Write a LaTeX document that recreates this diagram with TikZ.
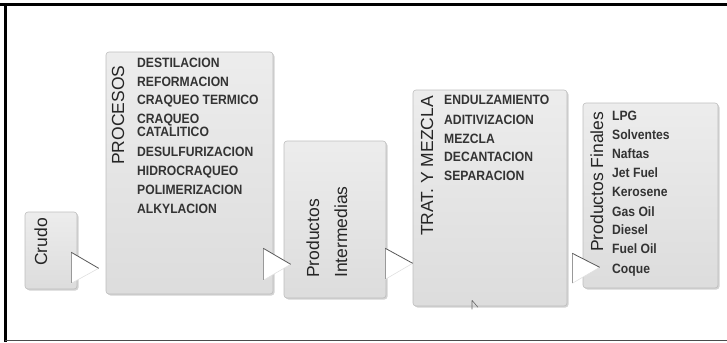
\documentclass[tikz,border=0pt]{standalone}
\usepackage{fontspec}
\setmainfont{Liberation Sans}
\newfontfamily\itemfont[FakeStretch=0.9]{Liberation Sans}
\usetikzlibrary{calc,shadows}
\definecolor{boxfill}{HTML}{E8E8E8}
\definecolor{boxline}{HTML}{BDBDBD}
\definecolor{itemtext}{HTML}{333333}
\begin{document}
\begin{tikzpicture}[x=1bp,y=-1bp,
  box/.style={draw=boxline, line width=0.6bp, rounded corners=3bp, top color=boxfill!80!white, bottom color=boxfill!95!black,
    inner sep=0pt, drop shadow={opacity=0.35, shadow xshift=1.5bp, shadow yshift=-1.5bp}},
  lbl/.style={rotate=90, anchor=base west, inner sep=0pt, font=\fontsize{17.5bp}{21bp}\selectfont, text=black!85},
  item/.style={anchor=base west, inner sep=0pt, font=\itemfont\bfseries\fontsize{13.5bp}{16bp}\selectfont, text=itemtext},
  tri/.style={fill=white, draw=none},
  triL/.style={draw=black!40, line width=1.2bp},
  triT/.style={draw=black!65, line width=0.8bp},
  triB/.style={draw=black!12, line width=0.6bp}]
\useasboundingbox (0,0) rectangle (727,342);
% frame
\draw[black, line width=2.7bp] (0,4.7) -- (727,4.7);
\draw[black, line width=2.7bp] (5.3,3.4) -- (5.3,342);
\draw[black!70, line width=1.3bp] (5.3,340.5) -- (727,340.5);
% boxes
\node[box, minimum width=52bp, minimum height=77bp] (crudo) at (51,250.5) {};
\node[box, minimum width=167bp, minimum height=242bp] (proc) at (189.5,173) {};
\node[box, minimum width=102bp, minimum height=157bp] (inter) at (335,219.5) {};
\node[box, minimum width=154bp, minimum height=216bp] (trat) at (490,198) {};
\node[box, minimum width=135bp, minimum height=185bp] (fin) at (650.5,195.5) {};
% rotated labels
\node[lbl] (lcrudo) at (47,266) {Crudo};
\node[lbl] (lproc) at (124,165) {PROCESOS};
\node[lbl] (linter1) at (319,278) {Productos};
\node[lbl] (linter2) at (347,278) {Intermedias};
\node[lbl] (ltrat) at (433,236) {TRAT. Y MEZCLA};
\node[lbl] (lfin) at (603,252) {Productos Finales};
% items
\foreach \t/\y [count=\i] in {DESTILACION/67, REFORMACION/86, CRAQUEO TERMICO/104, CRAQUEO/123, CATALITICO/136,
   DESULFURIZACION/156, HIDROCRAQUEO/175, POLIMERIZACION/194, ALKYLACION/213}
  \node[item] (p\i) at (137,\y) {\t};
\foreach \t/\y [count=\i] in {ENDULZAMIENTO/104, ADITIVIZACION/124, MEZCLA/143, DECANTACION/161, SEPARACION/180}
  \node[item] (t\i) at (444,\y) {\t};
\foreach \t/\y [count=\i] in {LPG/120, Solventes/139, Naftas/158, Jet Fuel/177, Kerosene/196, Gas Oil/216,
   Diesel/234, Fuel Oil/253, Coque/273}
  \node[item] (f\i) at (612,\y) {\t};
% connectors (callout triangles)
\coordinate (a1t) at ($(crudo.south east)+(-6,-37)$);
\coordinate (a1b) at ($(crudo.south east)+(-6,-6)$);
\coordinate (a1p) at ($(proc.south west)+(-7,-26)$);
\coordinate (a2t) at ($(proc.south east)+(-10,-46)$);
\coordinate (a2b) at ($(proc.south east)+(-10,-14)$);
\coordinate (a2p) at ($(inter.south west)+(7,-34)$);
\coordinate (a3t) at ($(inter.south east)+(-1,-50)$);
\coordinate (a3b) at ($(inter.south east)+(-1,-19)$);
\coordinate (a3p) at ($(trat.south west)+(0,-43)$);
\coordinate (a4t) at ($(trat.south east)+(5,-53)$);
\coordinate (a4b) at ($(trat.south east)+(5,-23)$);
\coordinate (a4p) at ($(fin.south west)+(17,-21)$);
\foreach \k in {1,2,3,4}{
  \fill[tri] (a\k t) -- (a\k p) -- (a\k b) -- cycle;
  \draw[triB] (a\k b) -- (a\k p);
  \draw[triL] (a\k t) -- (a\k b);
  \draw[triT] (a\k t) -- (a\k p);
}
% small pointer at bottom of TRAT box
\coordinate (ptr) at ($(trat.south)+(-18,-6)$);
\draw[black!60, line width=0.6bp] (ptr) -- ++(0,9) (ptr) -- ++(6,7);
\end{tikzpicture}
\end{document}
